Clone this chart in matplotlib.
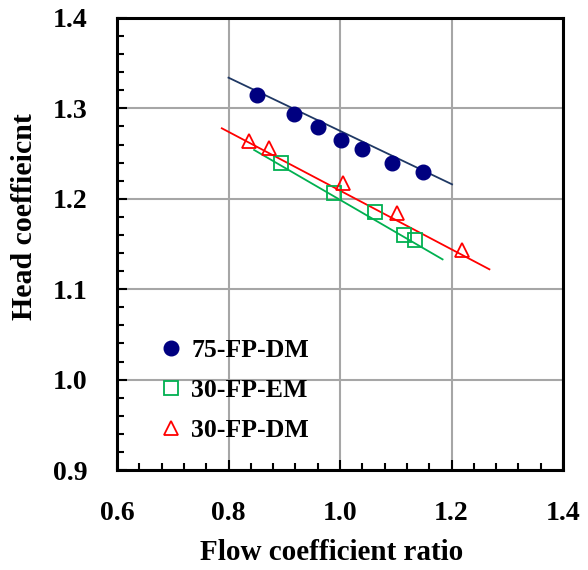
import matplotlib
matplotlib.use("Agg")
import matplotlib.pyplot as plt
from matplotlib.ticker import MultipleLocator, FormatStrFormatter

# Data
dm75_x = [0.852, 0.918, 0.961, 1.002, 1.039, 1.094, 1.149]
dm75_y = [1.315, 1.294, 1.279, 1.265, 1.255, 1.240, 1.230]
dm75_fit_x = [0.800, 1.201]
dm75_fit_y = [1.334, 1.216]

em30_x = [0.895, 0.990, 1.062, 1.114, 1.135]
em30_y = [1.240, 1.206, 1.185, 1.160, 1.154]
em30_fit_x = [0.846, 1.184]
em30_fit_y = [1.254, 1.133]

dm30_x = [0.837, 0.872, 1.005, 1.103, 1.219]
dm30_y = [1.264, 1.256, 1.218, 1.184, 1.143]
dm30_fit_x = [0.788, 1.268]
dm30_fit_y = [1.278, 1.122]

labels = ["75-FP-DM", "30-FP-EM", "30-FP-DM"]
x_label = "Flow coefficient ratio"
y_label = "Head coeffieicnt"

plt.rcParams['font.family'] = ['Liberation Serif', 'DejaVu Serif']
plt.rcParams['font.weight'] = 'bold'

fig = plt.figure(figsize=(5.88, 5.70), dpi=100)
ax = fig.add_axes([117/588, 100/570, 446/588, 452/570])

navy = '#000080'
line_blue = '#1F3864'
green = '#00B050'
red = '#FF0000'

ax.plot(dm75_fit_x, dm75_fit_y, color=line_blue, lw=1.3, zorder=3)
ax.plot(em30_fit_x, em30_fit_y, color=green, lw=1.3, zorder=3)
ax.plot(dm30_fit_x, dm30_fit_y, color=red, lw=1.3, zorder=3)

h1, = ax.plot(dm75_x, dm75_y, 'o', ms=10.5, color=navy, mec=navy, zorder=4, label=labels[0])
h2, = ax.plot(em30_x, em30_y, 's', ms=9.5, mfc='none', mec=green, mew=1.3, zorder=4, label=labels[1])
h3, = ax.plot(dm30_x, dm30_y, '^', ms=10.5, mfc='none', mec=red, mew=1.3, zorder=4, label=labels[2])

ax.set_xlim(0.6, 1.4)
ax.set_ylim(0.9, 1.4)
ax.xaxis.set_major_locator(MultipleLocator(0.2))
ax.xaxis.set_minor_locator(MultipleLocator(0.04))
ax.yaxis.set_major_locator(MultipleLocator(0.1))
ax.yaxis.set_minor_locator(MultipleLocator(0.02))
ax.xaxis.set_major_formatter(FormatStrFormatter('%.1f'))
ax.yaxis.set_major_formatter(FormatStrFormatter('%.1f'))

ax.grid(True, which='major', color='#A6A6A6', lw=1.5, zorder=0)
ax.set_axisbelow(True)
ax.tick_params(which='major', direction='in', length=7, width=1.5, labelsize=20)
ax.tick_params(which='minor', direction='in', length=5, width=1.5)
ax.tick_params(axis='x', which='major', pad=22)
ax.tick_params(axis='y', which='major', pad=21.5)
for s in ax.spines.values():
    s.set_linewidth(2.2)

ax.set_xlabel(x_label, fontsize=21, fontweight='bold')
ax.set_ylabel(y_label, fontsize=21.5, fontweight='bold')
ax.xaxis.set_label_coords(0.482, -0.153)
ax.yaxis.set_label_coords(-0.178, 0.56)

ax.legend(handles=[h1, h2, h3], loc='upper left', bbox_to_anchor=(0.04, 0.34),
          frameon=False, handletextpad=0.3, labelspacing=0.66,
          handlelength=1.0, prop={'weight': 'bold', 'size': 18.5})

fig.savefig('out.png', dpi=100)
